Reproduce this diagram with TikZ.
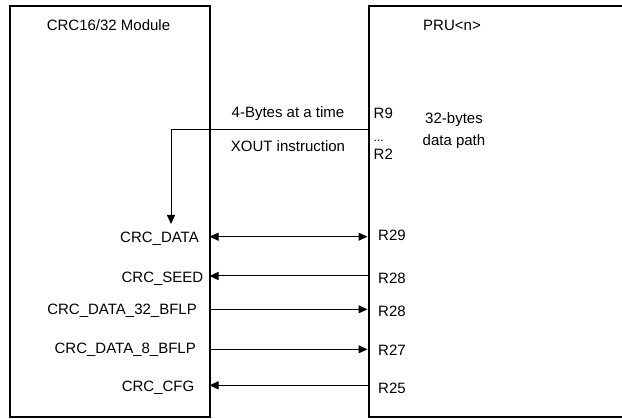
\documentclass[tikz,border=0pt]{standalone}
\usepackage{fontspec}
\setmainfont{Liberation Sans}
\usetikzlibrary{arrows.meta}
\begin{document}
\begin{tikzpicture}[x=1pt,y=-1pt,
  box/.style={draw,line width=2pt,inner sep=0pt,anchor=north west},
  lbl/.style={inner sep=0pt,font=\fontsize{15}{18}\selectfont},
  conn/.style={line width=1pt,-{Triangle[length=9pt,width=8pt]}},
  conn2/.style={line width=1pt,{Triangle[length=9pt,width=8pt]}-{Triangle[length=9pt,width=8pt]}}]
\useasboundingbox (0,0) rectangle (622,419);
\node[box,minimum width=200pt,minimum height=411pt] (crc) at (9,5) {};
\node[box,minimum width=280pt,minimum height=410.5pt] (pru) at (368,5.5) {};
% titles
\node[lbl,anchor=base] (crct) at (108.5,30.7) {CRC16/32 Module};
\node[lbl,anchor=base] (prut) at (452,30.7) {PRU<n>};
% top texts
\node[lbl,anchor=base] (bytes) at (288,118) {4-Bytes at a time};
\node[lbl,anchor=base] (xout) at (288,151.7) {XOUT instruction};
\node[lbl,anchor=base west] (r9) at (373.5,118.3) {R9};
\node[inner sep=0pt,anchor=base west,font=\fontsize{12}{13}\selectfont] (dots) at (373.5,141.5) {...};
\node[lbl,anchor=base west] (r2) at (373.5,160) {R2};
\node[lbl,anchor=base] (b32) at (454,124) {32-bytes};
\node[lbl,anchor=base] (dp) at (454,146) {data path};
% left labels
\node[lbl,anchor=base east] (l1) at (199,243) {CRC\_DATA};
\node[lbl,anchor=base east] (l2) at (203.5,282.7) {CRC\_SEED};
\node[lbl,anchor=base east] (l3) at (197,315) {CRC\_DATA\_32\_BFLP};
\node[lbl,anchor=base east] (l4) at (196,354) {CRC\_DATA\_8\_BFLP};
\node[lbl,anchor=base east] (l5) at (194.5,391.7) {CRC\_CFG};
% right labels
\node[lbl,anchor=base west] (q1) at (378,240.7) {R29};
\node[lbl,anchor=base west] (q2) at (378,284) {R28};
\node[lbl,anchor=base west] (q3) at (378,317) {R28};
\node[lbl,anchor=base west] (q4) at (378,356) {R27};
\node[lbl,anchor=base west] (q5) at (378,394) {R25};
% connector end points on box edges
\coordinate (xs) at (368,130);
\coordinate (xt) at (171,224);
\coordinate (a1) at (209.5,236.7); \coordinate (b1) at (367.5,236.7);
\coordinate (a2) at (209.5,276);   \coordinate (b2) at (367.5,276);
\coordinate (a3) at (209.5,309.3); \coordinate (b3) at (367.5,309.3);
\coordinate (a4) at (209.5,349.3); \coordinate (b4) at (367.5,349.3);
\coordinate (a5) at (209.5,385.3); \coordinate (b5) at (367.5,385.3);
\draw[conn] (xs) -| (xt);
\draw[conn2] (a1) -- (b1);
\draw[conn] (b2) -- (a2);
\draw[conn] (a3) -- (b3);
\draw[conn] (a4) -- (b4);
\draw[conn] (b5) -- (a5);
\end{tikzpicture}
\end{document}
